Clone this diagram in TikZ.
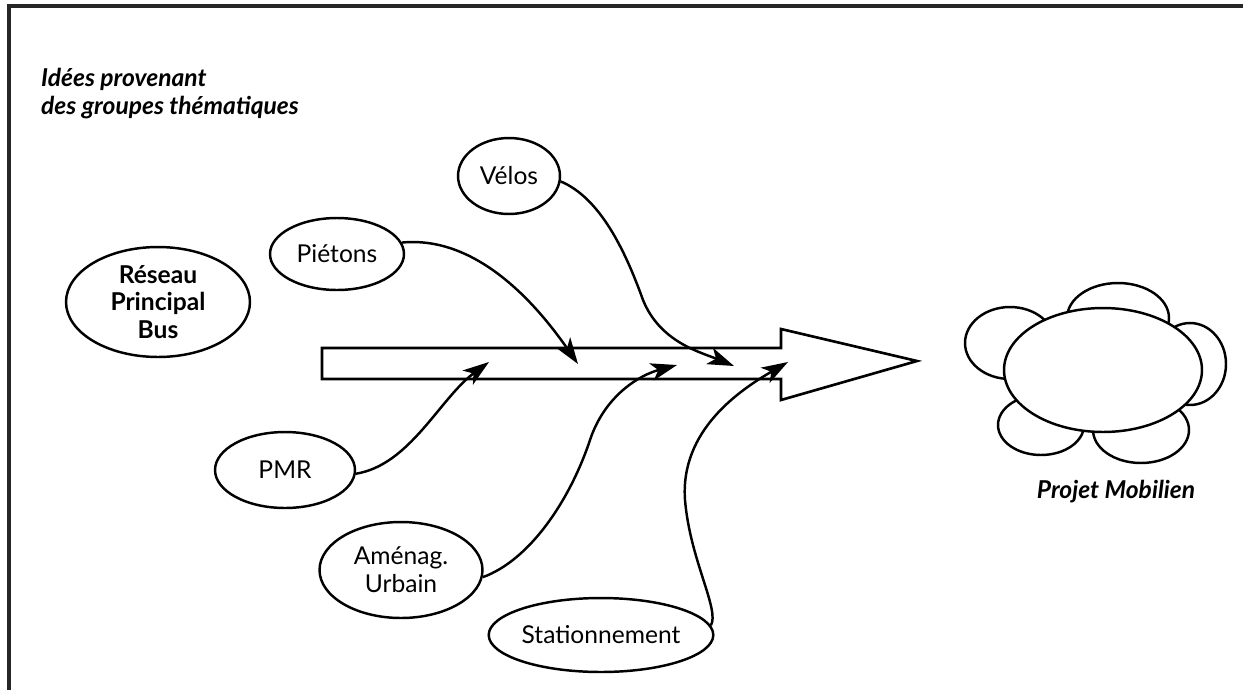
\documentclass[tikz,border=0pt]{standalone}
\usepackage{fontspec}
\setmainfont{Lato}
\usetikzlibrary{shapes.geometric,arrows.meta}
\begin{document}
\begin{tikzpicture}[x=0.02cm,y=-0.02cm,
  bubble/.style={draw,ellipse,line width=1.4pt,inner sep=0pt,fill=white,
    font=\fontsize{14}{16}\selectfont,align=center},
  petal/.style={draw,line width=1.4pt,fill=white},
  conn/.style={line width=1.4pt,-{Stealth[length=15pt,width=10pt,inset=4pt]}},
  lbl/.style={font=\fontsize{14}{16}\selectfont\bfseries\itshape,align=left}]
\useasboundingbox (0,0) rectangle (1243,690);
% frame (top and left only)
\draw[line width=1.8pt,black!85] (9,690) -- (9,6) -- (1243,6);
% title
\node[lbl,anchor=north west] (title) at (35,62) {Idées provenant\\des groupes thématiques};
% main arrow
\draw[line width=1.5pt,fill=white] (322,348) -- (781,348) -- (781,329) -- (917,361)
  -- (781,400) -- (781,379) -- (322,379) -- cycle;
\coordinate (tP) at (578,364);
\coordinate (tV) at (734,366);
\coordinate (tM) at (489,362);
\coordinate (tA) at (677,365);
\coordinate (tS) at (788,362);
% bubbles
\node[bubble,minimum width=3.68cm,minimum height=2.2cm,font=\fontsize{14}{15.5}\selectfont\bfseries] (reseau) at (158,302) {Réseau\\Principal\\Bus};
\node[bubble,minimum width=2.04cm,minimum height=1.52cm] (velos) at (509,176) {Vélos};
\node[bubble,minimum width=2.68cm,minimum height=1.44cm] (pietons) at (337,254) {Piétons};
\node[bubble,minimum width=2.8cm,minimum height=1.52cm] (pmr) at (285,470) {PMR};
\node[bubble,minimum width=3.26cm,minimum height=1.92cm] (amenag) at (401,570) {Aménag.\\Urbain};
\node[bubble,minimum width=3.84cm,minimum height=1.48cm] (station) at (601,635) {Stationnement};
% connectors
\draw[conn] (pietons.10) .. controls (470,236) and (528,292) .. (tP);
\draw[conn] (velos.-6) .. controls (600,198) and (625,250) .. (643,300)
  .. controls (660,342) and (700,352) .. (tV);
\draw[conn] (pmr.-3) .. controls (410,465) and (440,398) .. (tM);
\draw[conn] (amenag.-5) .. controls (530,560) and (570,500) .. (590,440)
  .. controls (605,395) and (640,375) .. (tA);
\draw[conn] (station.5) .. controls (720,610) and (690,560) .. (685,500)
  .. controls (680,430) and (740,390) .. (tS);
% cloud
\node[petal,ellipse,minimum width=2.04cm,minimum height=1.4cm] (ptop) at (1118,318) {};
\node[petal,ellipse,minimum width=1.8cm,minimum height=1.44cm] (pleft) at (1010,343) {};
\node[petal,ellipse,minimum width=1.44cm,minimum height=1.64cm] (pright) at (1190,364) {};
\node[petal,ellipse,minimum width=1.72cm,minimum height=1.2cm] (pbl) at (1041,425) {};
\node[petal,ellipse,minimum width=1.92cm,minimum height=1.32cm] (pbr) at (1141,430) {};
\node[petal,ellipse,minimum width=3.96cm,minimum height=2.48cm] (cloud) at (1103,370) {};
\node[lbl,anchor=center] (projet) at (1116,492) {Projet Mobilien};
\end{tikzpicture}
\end{document}
